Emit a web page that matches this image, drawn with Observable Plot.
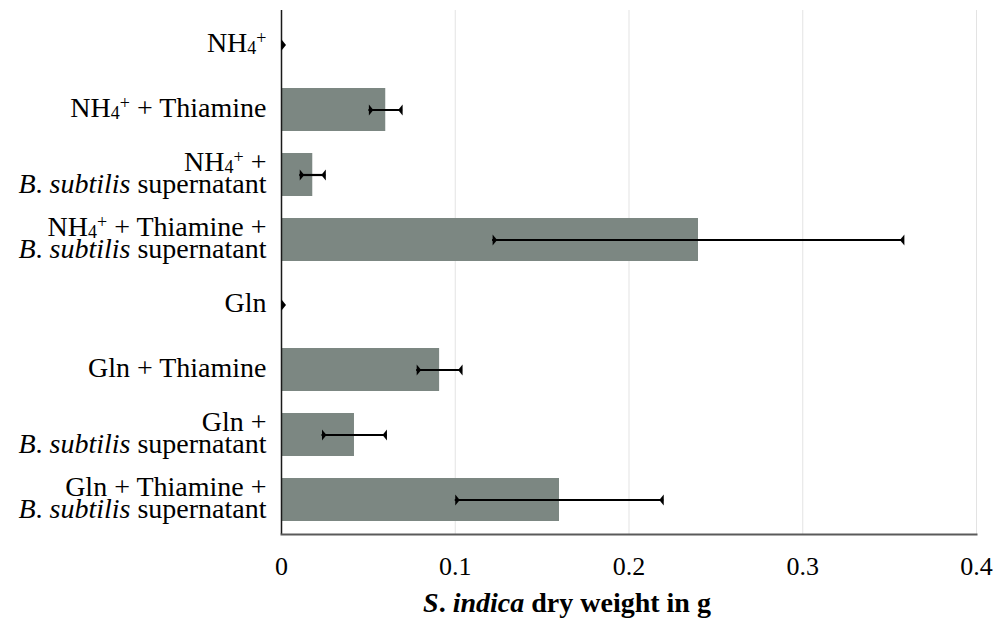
<!DOCTYPE html>
<html>
<head>
<meta charset="utf-8">
<script src="https://cdn.jsdelivr.net/npm/d3@7"></script>
<script src="https://cdn.jsdelivr.net/npm/@observablehq/plot@0.6"></script>
<style>
  html, body { margin: 0; padding: 0; background: #fff; }
  #chart svg { display: block; }
</style>
</head>
<body>
<div id="chart"></div>
<script>
// ---- data ----
const categories = [
  "NH4+",
  "NH4+ + Thiamine",
  "NH4+ +\nB. subtilis supernatant",
  "NH4+ + Thiamine +\nB. subtilis supernatant",
  "Gln",
  "Gln + Thiamine",
  "Gln +\nB. subtilis supernatant",
  "Gln + Thiamine +\nB. subtilis supernatant"
];
const means  = [0, 0.060, 0.018, 0.240, 0, 0.091, 0.042, 0.160];
const errors = [0, 0.0097, 0.0075, 0.1185, 0, 0.0132, 0.0187, 0.060];
const xTicks = [0, 0.1, 0.2, 0.3, 0.4];
const xTickLabels = ["0", "0.1", "0.2", "0.3", "0.4"];
const xTitle = "S. indica dry weight in g";

const rows = categories.map((c, i) => ({cat: c, mean: means[i], err: errors[i]}));

const FONT = "Liberation Serif, Times New Roman, serif";

// error-bar caps: small triangles with their base on the end value, apex pointing inward
const leftCap = {draw(ctx) { ctx.moveTo(0, -5.5); ctx.lineTo(0, 5.5); ctx.lineTo(4.5, 0); ctx.closePath(); }};
const rightCap = {draw(ctx) { ctx.moveTo(0, -5.5); ctx.lineTo(0, 5.5); ctx.lineTo(-4.5, 0); ctx.closePath(); }};

const chart = Plot.plot({
  width: 997,
  height: 628,
  marginLeft: 281,
  marginRight: 21,
  marginTop: 10,
  marginBottom: 94,
  style: {fontFamily: FONT, background: "#fff", color: "#000"},
  x: {domain: [0, 0.4], axis: null},
  y: {domain: categories, paddingInner: 0.343, paddingOuter: 0.1715, axis: null},
  marks: [
    Plot.gridX(xTicks.slice(1), {stroke: "#e3e3e3", strokeOpacity: 1, strokeWidth: 1}),
    Plot.barX(rows, {x: "mean", y: "cat", fill: "#7c8782"}),
    Plot.ruleX([0], {stroke: "#1a1a1a", strokeWidth: 1.5}),
    Plot.frame({anchor: "bottom", stroke: "#5a5a5a", strokeWidth: 2}),
    Plot.ruleY(rows, {y: "cat", x1: d => d.mean - d.err, x2: d => d.mean + d.err, stroke: "#000", strokeWidth: 2.2}),
    Plot.dot(rows, {x: d => d.mean - d.err, y: "cat", symbol: leftCap, r: 5, fill: "#000", stroke: "none", clip: true}),
    Plot.dot(rows, {x: d => d.mean + d.err, y: "cat", symbol: rightCap, r: 5, fill: "#000", stroke: "none", clip: true}),
    Plot.axisX(xTicks, {
      tickSize: 0, tickPadding: 22, fontSize: 26, label: null, fill: "#000",
      tickFormat: d => xTickLabels[xTicks.indexOf(d)]
    }),
    Plot.text(categories, {
      y: d => d, frameAnchor: "left", dx: -15, textAnchor: "end",
      fontSize: 28, lineHeight: 0.8, fill: "#000"
    }),
    Plot.text([xTitle], {
      frameAnchor: "bottom", dy: 77, dx: -62, fontSize: 28, fontWeight: "bold", fill: "#000"
    })
  ]
});

document.getElementById("chart").appendChild(chart);

// ---- rich text formatting (subscript / superscript / italic) ----
const NS = "http://www.w3.org/2000/svg";
const PATTERN = /(NH4\+|B\. subtilis|S\. indica)/;
function segments(str) {
  const out = [];
  str.split(PATTERN).forEach(part => {
    if (!part) return;
    if (part === "NH4+") {
      out.push({t: "NH"}, {t: "4", sub: true}, {t: "+", sup: true});
    } else if (part === "B. subtilis") {
      out.push({t: "B", it: true}, {t: ". "}, {t: "subtilis", it: true});
    } else if (part === "S. indica") {
      out.push({t: "S", it: true}, {t: ". "}, {t: "indica", it: true});
    } else out.push({t: part});
  });
  return out;
}
function richify(node) {
  const str = node.textContent;
  if (!PATTERN.test(str)) return;
  node.textContent = "";
  segments(str).forEach(s => {
    const ts = document.createElementNS(NS, "tspan");
    ts.textContent = s.t;
    if (s.it) ts.setAttribute("font-style", "italic");
    if (s.sub) { ts.setAttribute("font-size", "18"); ts.setAttribute("baseline-shift", "-1.5"); }
    if (s.sup) { ts.setAttribute("font-size", "18"); ts.setAttribute("baseline-shift", "8"); }
    node.appendChild(ts);
  });
}
chart.querySelectorAll("text").forEach(t => {
  const lines = Array.from(t.children).filter(c => c.tagName === "tspan");
  if (lines.length) lines.forEach(richify); else richify(t);
});
</script>
</body>
</html>
